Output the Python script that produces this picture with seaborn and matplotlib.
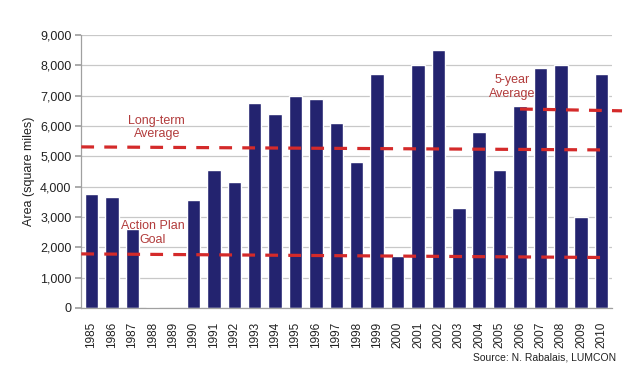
import numpy as np
import pandas as pd
import matplotlib.pyplot as plt
import seaborn as sns

# hypoxic zone area per year (square miles), 1989 not measured
years = [str(y) for y in range(1985, 2011)]
area = [3750, 3650, 2600, 30, np.nan, 3550, 4550, 4150, 6750, 6400,
        7000, 6900, 6100, 4800, 7700, 1700, 8000, 8500, 3300, 5800,
        4550, 6650, 7900, 8000, 3000, 7722]

# reference lines as hand-drawn (start value, end value)
long_term_avg = [5310, 5210]
action_plan_goal = [1780, 1660]
five_year_avg = [6560, 6500]

df = pd.DataFrame({'year': years, 'area': area})

sns.set_theme(style="white")
plt.rcParams['font.family'] = ['Liberation Sans', 'DejaVu Sans']

fig = plt.figure(figsize=(6.4, 3.81), dpi=100)
ax = fig.add_axes([0.127, 0.192, 0.829, 0.716])

sns.barplot(data=df, x='year', y='area', order=years, color='#23236f',
            saturation=1, width=0.66, ax=ax)

red = '#d42a2a'
dash = dict(color=red, lw=2.3, ls=(0, (4, 3.2)), zorder=5)
ax.plot([-0.5, 25.3], long_term_avg, **dash)
ax.plot([-0.5, 25.3], action_plan_goal, **dash)
ax.plot([21.0, 26.0], five_year_avg, clip_on=False, **dash)

txt = dict(color='#b23c3c', fontsize=9, ha='center', va='center', zorder=6)
ax.text(3.2, 5950, 'Long-term\nAverage', **txt)
ax.text(3.0, 2470, 'Action Plan\nGoal', **txt)
ax.text(20.6, 7280, '5-year\nAverage', **txt)

ax.set_xlim(-0.5, 25.5)
ax.set_ylim(0, 9000)
ax.set_yticks(range(0, 9001, 1000))
ax.set_yticklabels([f'{v:,}' for v in range(0, 9001, 1000)])
ax.yaxis.grid(True, color='#c8c8c8', lw=0.9)
ax.set_axisbelow(True)
ax.set_xlabel('')
ax.set_ylabel('Area (square miles)', fontsize=9, color='#222222')

ax.tick_params(axis='y', left=True, length=4, color='#a0a0a0', labelsize=9,
               labelcolor='#222222', pad=3)
ax.tick_params(axis='x', bottom=False, labelsize=8.5, labelcolor='#222222',
               rotation=90, pad=4)

for s in ['top', 'right']:
    ax.spines[s].set_visible(False)
for s in ['left', 'bottom']:
    ax.spines[s].set_color('#a0a0a0')
    ax.spines[s].set_linewidth(0.9)

fig.text(0.963, 0.062, 'Source: N. Rabalais, LUMCON', ha='right', va='center',
         fontsize=7.5, color='#222222')

fig.savefig('out.png', dpi=100, facecolor='white')
